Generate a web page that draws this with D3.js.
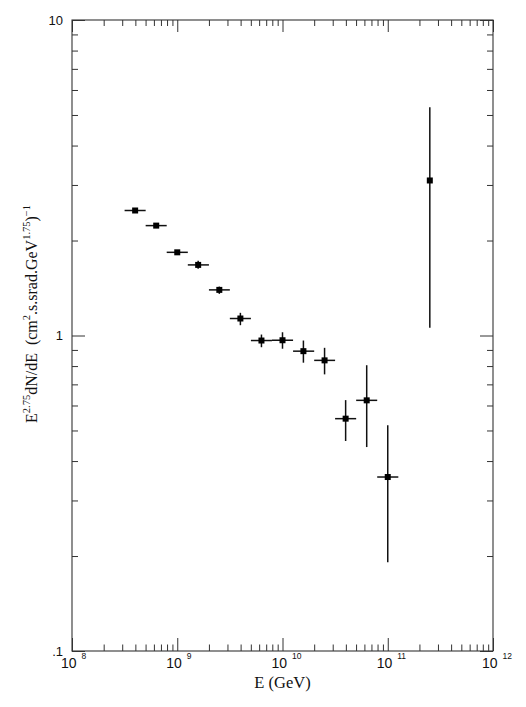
<!DOCTYPE html>
<html>
<head>
<meta charset="utf-8">
<script src="https://cdn.jsdelivr.net/npm/d3@7"></script>
<style>
  body { margin: 0; background: #fff; }
  .tick-label { font-family: "Liberation Sans", Arial, sans-serif; fill: #111; }
  .title { font-family: "Liberation Serif", "Times New Roman", serif; fill: #111; }
</style>
</head>
<body>
<div id="chart"></div>
<script>
// Bin centres and edges of the energy bins (GeV)
const energy     = [3.98e8, 6.31e8, 1.0e9, 1.58e9, 2.51e9, 3.98e9, 6.31e9, 1.0e10, 1.58e10, 2.51e10, 3.98e10, 6.31e10, 1.0e11, 2.51e11];
const energyLow  = [3.16e8, 5.01e8, 7.94e8, 1.26e9, 2.0e9, 3.16e9, 5.01e9, 7.94e9, 1.26e10, 2.0e10, 3.16e10, 5.01e10, 7.94e10, 2.51e11];
const energyHigh = [5.01e8, 7.94e8, 1.26e9, 2.0e9, 3.16e9, 5.01e9, 7.94e9, 1.26e10, 2.0e10, 3.16e10, 5.01e10, 7.94e10, 1.26e11, 2.51e11];

// E^2.75 dN/dE and its error range
const flux     = [2.49, 2.23, 1.835, 1.674, 1.395, 1.132, 0.964, 0.966, 0.892, 0.834, 0.545, 0.623, 0.356, 3.10];
const fluxHigh = [2.52, 2.26, 1.855, 1.727, 1.429, 1.18, 1.007, 1.024, 0.964, 0.914, 0.624, 0.805, 0.519, 5.29];
const fluxLow  = [2.46, 2.20, 1.815, 1.629, 1.355, 1.078, 0.918, 0.908, 0.820, 0.753, 0.463, 0.443, 0.191, 1.058];

// Axis labels
const xDecades = [8, 9, 10, 11, 12];
const yLabels = [{v: 10, t: "10"}, {v: 1, t: "1"}, {v: 0.1, t: ".1"}];

let width = 526,
    height = 707;

let svg = d3.select('#chart').append('svg')
    .attr('width', width)
    .attr('height', height);

//----------------------------------------
// Scales
let x = d3.scaleLog().domain([1e8, 1e12]).range([72, 493]);
let y = d3.scaleLog().domain([0.1, 10]).range([651, 20]);

let x0 = x.range()[0], x1 = x.range()[1],
    y0 = y.range()[0], y1 = y.range()[1];

// minor ticks: all 1..9 multiples, majors are the decades
let xTicks = x.ticks(),
    yTicks = y.ticks();
let isMajor = function(v) {
    let l = Math.log10(v);
    return Math.abs(l - Math.round(l)) < 1e-6;
};

//----------------------------------------
// Axes (ticks pointing inward on all four sides)
let frameColor = '#333';

function styleAxis(g) {
    g.select('.domain').remove();
    g.selectAll('.tick line')
        .attr('stroke', frameColor)
        .attr('stroke-width', 1);
    g.selectAll('.tick text').remove();
}

svg.append('g')
    .attr('transform', 'translate(0,' + y0 + ')')
    .call(d3.axisBottom(x).tickValues(xTicks).tickSizeInner(0).tickSizeOuter(0))
    .call(styleAxis)
    .selectAll('.tick line')
    .attr('y2', function(d) { return isMajor(d) ? -13 : -6.5; });

svg.append('g')
    .attr('transform', 'translate(0,' + y1 + ')')
    .call(d3.axisTop(x).tickValues(xTicks).tickSizeInner(0).tickSizeOuter(0))
    .call(styleAxis)
    .selectAll('.tick line')
    .attr('y2', function(d) { return isMajor(d) ? 12 : 6; });

svg.append('g')
    .attr('transform', 'translate(' + x0 + ',0)')
    .call(d3.axisLeft(y).tickValues(yTicks).tickSizeInner(0).tickSizeOuter(0))
    .call(styleAxis)
    .selectAll('.tick line')
    .attr('x2', function(d) { return isMajor(d) ? 13 : 6; });

svg.append('g')
    .attr('transform', 'translate(' + x1 + ',0)')
    .call(d3.axisRight(y).tickValues(yTicks).tickSizeInner(0).tickSizeOuter(0))
    .call(styleAxis)
    .selectAll('.tick line')
    .attr('x2', function(d) { return isMajor(d) ? -13 : -6; });

// Frame
svg.append('rect')
    .attr('x', x0)
    .attr('y', y1)
    .attr('width', x1 - x0)
    .attr('height', y0 - y1)
    .attr('fill', 'none')
    .attr('stroke', frameColor)
    .attr('stroke-width', 1.1);

//----------------------------------------
// Tick labels
let xl = svg.append('g').selectAll('g')
    .data(xDecades)
    .enter()
    .append('g')
    .attr('transform', function(d) { return 'translate(' + x(Math.pow(10, d)) + ',' + 668 + ')'; });
xl.append('text')
    .attr('class', 'tick-label')
    .attr('x', 4.5)
    .attr('text-anchor', 'end')
    .style('font-size', '14px')
    .text('10');
xl.append('text')
    .attr('class', 'tick-label')
    .attr('x', 9.5)
    .attr('y', -9)
    .style('font-size', '8.5px')
    .text(function(d) { return d; });

svg.append('g').selectAll('text')
    .data(yLabels)
    .enter()
    .append('text')
    .attr('class', 'tick-label')
    .attr('x', 63)
    .attr('y', function(d) { return y(d.v); })
    .attr('dy', '0.35em')
    .attr('text-anchor', 'end')
    .style('font-size', '13px')
    .text(function(d) { return d.t; });

//----------------------------------------
// Axis titles
svg.append('text')
    .attr('class', 'title')
    .attr('x', (x0 + x1) / 2)
    .attr('y', 688)
    .attr('text-anchor', 'middle')
    .style('font-size', '16.5px')
    .text('E (GeV)');

let yt = svg.append('text')
    .attr('class', 'title')
    .attr('transform', 'translate(37,314) rotate(-90)')
    .attr('text-anchor', 'middle')
    .style('font-size', '16px');
let parts = [
    ['E', 0], ['2.75', 1], ['dN/dE\u00a0\u00a0(cm', 0], ['2', 1], ['.s.srad.GeV', 0], ['1.75', 1], [')', 0], ['\u22121', 1]
];
let prevSup = 0;
parts.forEach(function(p) {
    let shift = (p[1] - prevSup) * -7;
    yt.append('tspan')
        .attr('dy', shift)
        .style('font-size', p[1] ? '10.5px' : '16px')
        .text(p[0]);
    prevSup = p[1];
});

//----------------------------------------
// Data: error bars and square markers
let idx = d3.range(flux.length);
let marks = svg.append('g');

marks.selectAll('.xerr')
    .data(idx)
    .enter()
    .append('line')
    .attr('class', 'xerr')
    .attr('x1', function(i) { return x(energyLow[i]); })
    .attr('x2', function(i) { return x(energyHigh[i]); })
    .attr('y1', function(i) { return y(flux[i]); })
    .attr('y2', function(i) { return y(flux[i]); })
    .attr('stroke', '#111')
    .attr('stroke-width', 1.5);

marks.selectAll('.yerr')
    .data(idx)
    .enter()
    .append('line')
    .attr('class', 'yerr')
    .attr('x1', function(i) { return x(energy[i]); })
    .attr('x2', function(i) { return x(energy[i]); })
    .attr('y1', function(i) { return y(fluxLow[i]); })
    .attr('y2', function(i) { return y(fluxHigh[i]); })
    .attr('stroke', '#111')
    .attr('stroke-width', 1.5);

let size = 6;
marks.selectAll('.pt')
    .data(idx)
    .enter()
    .append('rect')
    .attr('class', 'pt')
    .attr('x', function(i) { return x(energy[i]) - size / 2; })
    .attr('y', function(i) { return y(flux[i]) - size / 2; })
    .attr('width', size)
    .attr('height', size)
    .attr('fill', '#000');
</script>
</body>
</html>
